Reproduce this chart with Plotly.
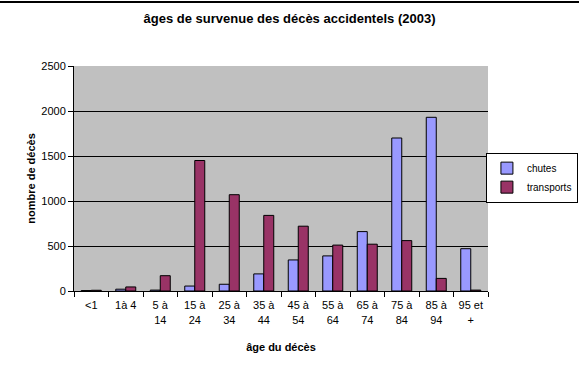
import plotly.graph_objects as go

categories = ["<1", "1à 4", "5 à<br>14", "15 à<br>24", "25 à<br>34", "35 à<br>44", "45 à<br>54",
              "55 à<br>64", "65 à<br>74", "75 à<br>84", "85 à<br>94", "95 et<br>+"]
chutes = [5, 20, 10, 55, 75, 190, 345, 390, 660, 1700, 1930, 470]
transports = [8, 45, 170, 1450, 1070, 840, 720, 510, 520, 560, 140, 10]

font_family = "Liberation Sans, Arial, sans-serif"

fig = go.Figure()
fig.add_trace(go.Bar(name="chutes", x=categories, y=chutes,
                     marker=dict(color="#9999FF", line=dict(color="black", width=1))))
fig.add_trace(go.Bar(name="transports", x=categories, y=transports,
                     marker=dict(color="#993366", line=dict(color="black", width=1))))

fig.update_layout(
    width=579, height=387,
    margin=dict(l=74, r=91, t=66, b=96, autoexpand=False),
    paper_bgcolor="white", plot_bgcolor="#C0C0C0",
    barmode="group", bargap=0.42, bargroupgap=0,
    font=dict(family=font_family, size=11, color="black"),
    title=dict(text="<b>âges de survenue des décès accidentels (2003)</b>",
               x=0.5, xanchor="center", y=0.952, yanchor="middle",
               font=dict(size=13, family=font_family)),
    showlegend=True,
    legend=dict(x=0.995, y=0.615, xanchor="left", yanchor="top",
                bordercolor="black", borderwidth=1, bgcolor="white",
                font=dict(size=10), tracegroupgap=2, itemwidth=30),
    xaxis=dict(type="category", showline=True, linecolor="black", linewidth=1,
               ticks="outside", tickson="boundaries", ticklen=5, tickcolor="black",
               tickangle=0, automargin=False, ticklabelstandoff=4,
               title=dict(text="<b>âge du décès</b>", font=dict(size=11), standoff=18),
               showgrid=False),
    yaxis=dict(range=[0, 2500], dtick=500, showline=True, linecolor="black", linewidth=1,
               ticks="outside", ticklen=5, tickcolor="black", automargin=False,
               gridcolor="black", gridwidth=1, zeroline=False,
               title=dict(text="<b>nombre de décès</b>", font=dict(size=11), standoff=3)),
    shapes=[dict(type="line", xref="paper", yref="paper", x0=-0.2, x1=1.3, y0=1.285, y1=1.285,
                 line=dict(color="black", width=2))],
)

fig.write_html("out.html", config={"displayModeBar": False},
               post_script="document.body.style.margin='0px';document.body.style.overflow='hidden';")
